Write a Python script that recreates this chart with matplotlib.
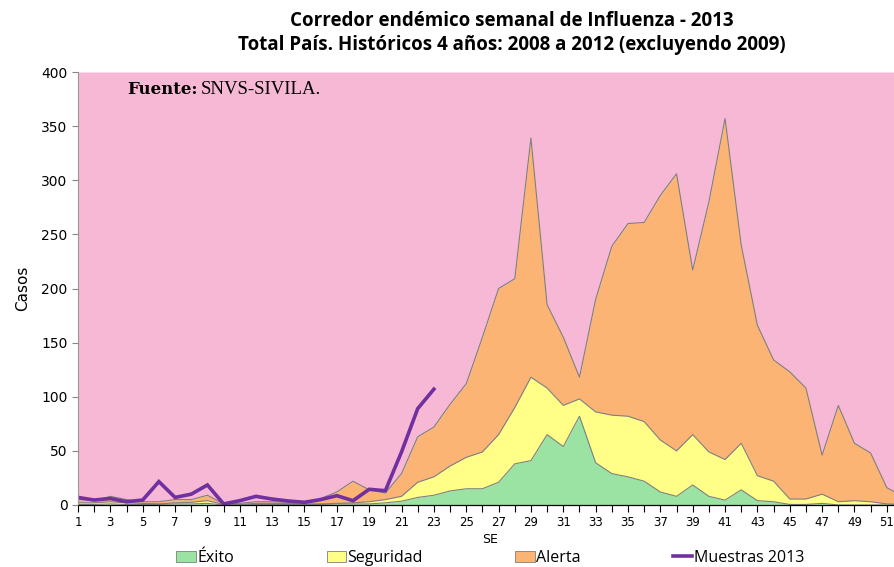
import matplotlib
matplotlib.use("Agg")
import matplotlib.pyplot as plt
from matplotlib.patches import Patch
from matplotlib.lines import Line2D

# semanas epidemiologicas
semanas = list(range(1, 53))

# limites superiores acumulados de cada zona del corredor
exito = [0.5, 0.5, 1, 0.5, 0.5, 0.5, 1, 1, 1.5, 0, 0, 0.5, 0.5, 0.5, 0.5, 0.5, 1, 1, 1, 2,
         3.5, 7, 9, 13, 15, 15, 21, 38, 41, 65, 54, 82, 39, 29, 26, 22, 12, 8, 18.5, 8,
         4.5, 14, 4, 3, 0.5, 0.5, 1.5, 0, 0, 0, 0, 0]
seguridad = [2, 2, 3, 2, 1.5, 1, 2, 2.5, 4, 0.5, 0.5, 1.5, 1.5, 1.5, 1, 1, 1.5, 2, 3, 5,
             8, 21, 26, 36, 44, 49, 65, 90, 118, 108, 92, 98, 86, 83, 82, 77, 60, 50, 65, 49,
             42, 57, 27, 22, 5.5, 5.5, 10, 3, 4, 3, 1, 0.5]
alerta = [5, 4, 8, 5, 3, 3, 5, 5, 9, 1, 1.5, 3, 3, 2.5, 3, 6, 12, 22, 14, 11,
          29, 63, 72, 93, 112, 155, 200, 209, 339, 185, 155, 118, 190, 239, 260, 261, 286, 306, 217, 280,
          357, 240, 166, 134, 123, 108, 46, 92, 57, 48, 16, 8]
brote_tope = 400

# casos notificados 2013
semanas_2013 = list(range(1, 24))
muestras_2013 = [7, 4.6, 6, 3, 4.6, 21.6, 7, 10, 18.5, 1, 4, 8, 5.5, 3.7, 2.5, 5, 8.6, 4,
                 14.5, 13.2, 49, 89, 107]

c_brote = "#F6B8D4"
c_alerta = "#FBB474"
c_seg = "#FFFF88"
c_exito = "#9BE3A3"
c_borde = "#7F7F7F"
c_linea = "#7030A0"

fig = plt.figure(figsize=(8.95, 5.67), dpi=100)
ax = fig.add_axes([78 / 895, 62 / 567, 825 / 895, 433 / 567])

ax.fill_between(semanas, alerta, brote_tope, color=c_brote, lw=0)
ax.fill_between(semanas, seguridad, alerta, color=c_alerta, lw=0)
ax.fill_between(semanas, exito, seguridad, color=c_seg, lw=0)
ax.fill_between(semanas, 0, exito, color=c_exito, lw=0)
ax.plot(semanas, alerta, color=c_borde, lw=0.8)
ax.plot(semanas, seguridad, color=c_borde, lw=0.8)
ax.plot(semanas, exito, color=c_borde, lw=0.8)
ax.plot(semanas_2013, muestras_2013, color=c_linea, lw=2.6, solid_joinstyle="miter")

ax.set_xlim(1, 52)
ax.set_ylim(0, 400)
ax.set_xticks(semanas)
ax.set_xticklabels([str(s) if s % 2 == 1 else "" for s in semanas], fontsize=8.5)
ax.set_yticks(range(0, 401, 50))
ax.tick_params(axis="y", labelsize=10, colors="#888888", labelcolor="black", length=4)
ax.tick_params(axis="x", length=5, width=0.8, color="black", pad=3)
for s in ["top", "right"]:
    ax.spines[s].set_visible(False)
ax.spines["left"].set_color("#999999")
ax.spines["bottom"].set_color("black")
ax.spines["bottom"].set_linewidth(0.9)
ax.set_axisbelow(False)

ax.set_xlabel("SE", fontsize=9, labelpad=3)
ax.set_ylabel("Casos", fontsize=11, labelpad=8)

fig.text(0.572, 1 - 33 / 567, "Corredor endémico semanal de Influenza - 2013\n"
         "Total País. Históricos 4 años: 2008 a 2012 (excluyendo 2009)",
         ha="center", va="center", fontsize=13.5, fontweight="bold", linespacing=1.25,
         family="Open Sans")

fig.text(127 / 895, 1 - 90 / 567, "Fuente:", fontsize=12, fontweight="bold",
         family="DejaVu Serif", va="center")
fig.text(201 / 895, 1 - 90 / 567, "SNVS-SIVILA.", fontsize=13.5,
         family="Liberation Serif", va="center")

handles = [Patch(facecolor=c_exito, edgecolor=c_borde, lw=0.6),
           Patch(facecolor=c_seg, edgecolor=c_borde, lw=0.6),
           Patch(facecolor=c_alerta, edgecolor=c_borde, lw=0.6),
           Line2D([0], [0], color=c_linea, lw=2.6)]
labels = ["Éxito", "Seguridad", "Alerta", "Muestras 2013"]
fig.legend(handles, labels, loc="center", bbox_to_anchor=(0.548, 1 - 558 / 567), ncol=4,
           frameon=False, handlelength=1.2, handleheight=0.7,
           handletextpad=0.1, columnspacing=5.8, prop={"family": "Open Sans", "size": 11.5})

fig.savefig("out.png", dpi=100)
